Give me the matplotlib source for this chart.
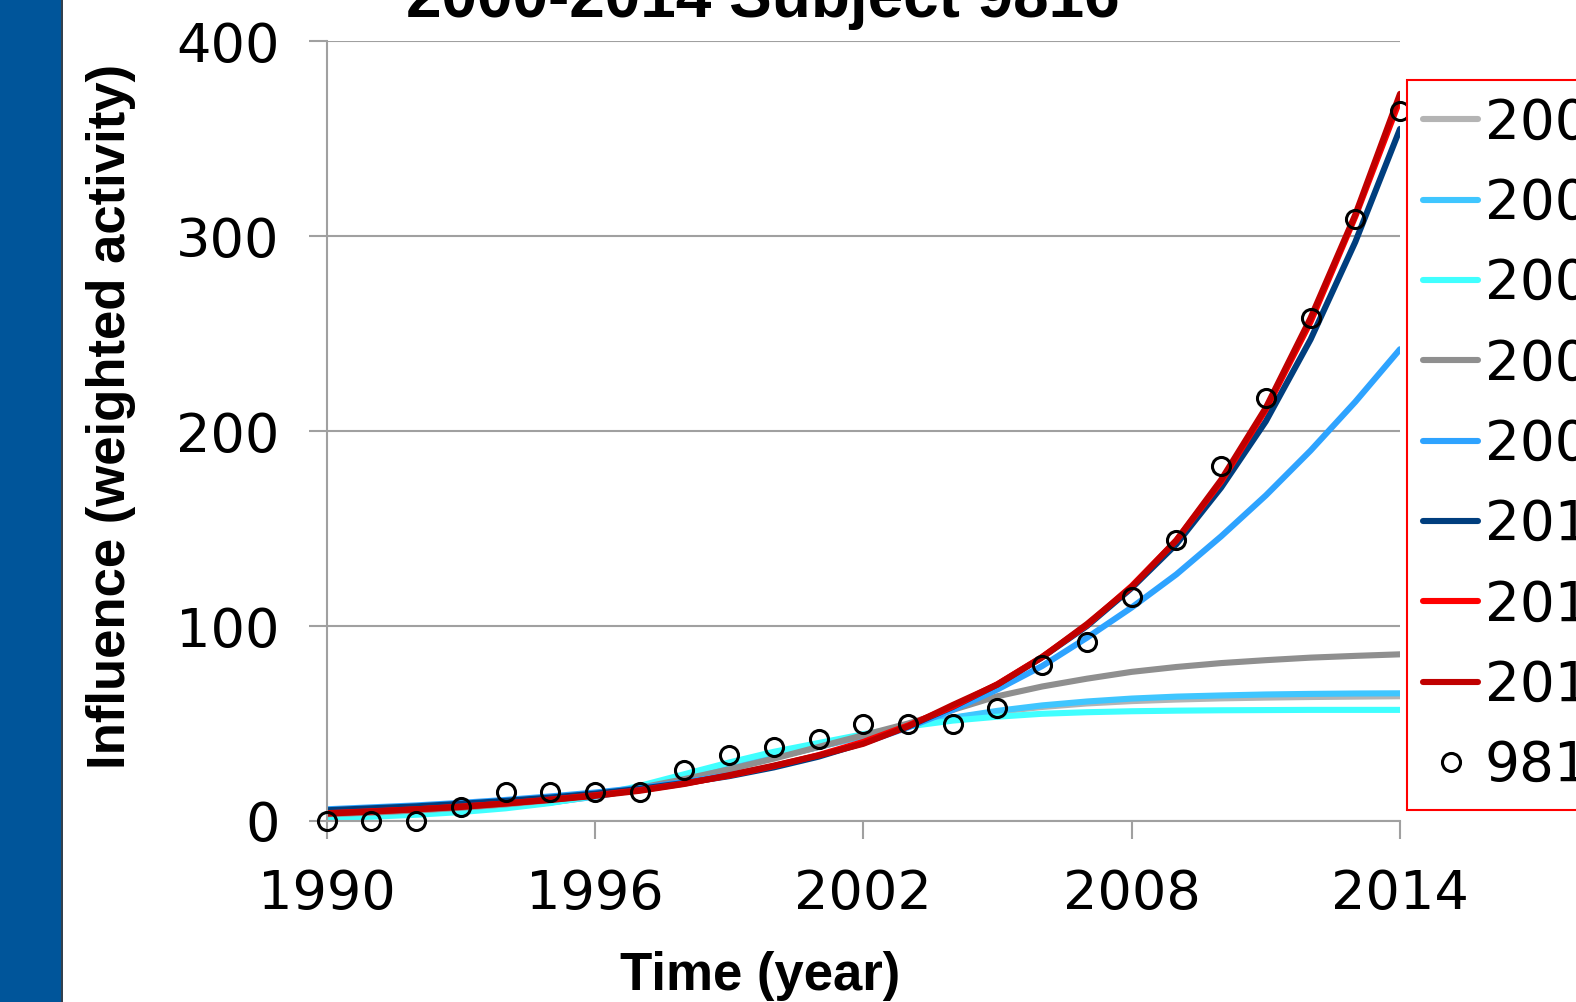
"""Logistic fits of influence over time, 2000-2014, subject 9816."""

import matplotlib
matplotlib.use("Agg")
import matplotlib.pyplot as plt
from matplotlib.patches import Rectangle
from matplotlib.lines import Line2D

years = list(range(1990, 2015))

# observed weighted activity of subject 9816
subject_9816 = [0, 0, 0, 7, 15, 15, 15, 15, 26, 34, 38, 42, 50, 50, 50, 58,
                80, 92, 115, 144, 182, 217, 258, 309, 364]

# fitted curves, one per cut-off year (labels are clipped in the figure)
fit_labels = ["2003", "2004", "2005", "2006", "2008", "2010", "2012", "2014"]
fit_2003 = [2.5, 3.2, 4.2, 5.5, 7.2, 9.5, 12.5, 16.5, 21.5, 27, 32.5, 38, 43.5,
            48.5, 52.8, 56, 58.5, 60.3, 61.5, 62.3, 62.9, 63.3, 63.6, 63.8, 64]
fit_2004 = [2.5, 3.2, 4.2, 5.5, 7.2, 9.5, 12.5, 16.5, 21.5, 27, 32.5, 38, 43.5,
            48.5, 53, 56.5, 59.3, 61.3, 62.8, 63.8, 64.4, 64.9, 65.2, 65.4, 65.5]
fit_2005 = [1.5, 2.2, 3.2, 4.6, 6.5, 9.2, 13, 18, 24, 30, 35.5, 40, 44.5,
            48.5, 51.5, 53.5, 55, 55.8, 56.3, 56.6, 56.8, 56.9, 57, 57, 57]
fit_2006 = [3.5, 4.3, 5.4, 6.8, 8.5, 10.7, 13.5, 17, 21.5, 26.5, 32, 38, 44,
            50, 57, 64, 69, 73, 76.5, 79, 81, 82.5, 83.8, 84.7, 85.5]
fit_2008 = [6, 7, 8, 9.3, 10.8, 12.6, 14.6, 17, 20, 23.5, 28, 33.5, 40,
            48, 57, 67.5, 79.5, 94, 109.5, 126.5, 146, 167, 190, 215, 242]
fit_2010 = [5.5, 6.5, 7.5, 8.8, 10.3, 12, 14, 16.5, 19.5, 23, 27.5, 33, 40,
            48.5, 58.5, 70, 84, 100, 119.5, 142, 171, 205, 247, 297, 355]
fit_2012 = [4, 5, 6, 7.4, 9, 11, 13.2, 15.8, 19.2, 23.3, 28.2, 33.8, 40.6,
            49, 58.7, 70.2, 84.2, 100.5, 120.5, 144, 174, 211, 256, 310, 370]
fit_2014 = [3.8, 4.8, 6, 7.2, 9, 10.8, 12.9, 15.5, 19, 23.5, 28.4, 33.6, 39.6,
            48.5, 59.5, 70, 84, 101, 120, 144, 175, 212, 258, 311, 373]

fits = [fit_2003, fit_2004, fit_2005, fit_2006, fit_2008, fit_2010, fit_2012, fit_2014]
colors = ["#B4B4B4", "#3FC6FF", "#40FFFF", "#8F8F8F", "#2EA3FF", "#003E7E", "#FF0000", "#C00000"]

W, H = 1576, 1002
fig = plt.figure(figsize=(W / 100, H / 100), dpi=100)

# blue side band
fig.patches.append(Rectangle((0, 0), 61 / W, 1, transform=fig.transFigure,
                             facecolor="#00559A", edgecolor="none"))
fig.add_artist(Line2D([61.5 / W, 61.5 / W], [0, 1], transform=fig.transFigure,
                      color="#0A1A2A", lw=1.2))

ax = fig.add_axes([326.6 / W, 1 - 821 / H, (1400 - 326.6) / W, (821 - 41.2) / H])

grid_c = "#A0A0A0"
for vals, c, lab in zip(fits, colors, fit_labels):
    ax.plot(years, vals, color=c, lw=4.4, label=lab, solid_capstyle="round",
            solid_joinstyle="round")
ax.plot(years, subject_9816, ls="none", marker="o", ms=13, mfc="none", mec="black",
        mew=2.2, label="9816", clip_on=False, zorder=5)

ax.set_xlim(1990, 2014)
ax.set_ylim(0, 400)
ax.set_xticks([1990, 1996, 2002, 2008, 2014])
ax.set_yticks([0, 100, 200, 300, 400])
ax.yaxis.grid(True, color=grid_c, lw=1.5)
ax.set_axisbelow(True)
for s in ["top", "right"]:
    ax.spines[s].set_visible(False)
for s in ["left", "bottom"]:
    ax.spines[s].set_color(grid_c)
    ax.spines[s].set_linewidth(1.5)
ax.tick_params(direction="out", length=13, width=1.5, color=grid_c,
               labelsize=39, pad=21)

leg = ax.legend(loc="upper left", bbox_to_anchor=(1407 / W, 1 - 80 / H),
                bbox_transform=fig.transFigure, fontsize=39.5, frameon=True,
                fancybox=False, framealpha=1, edgecolor="#FF0000",
                handlelength=1.0, handletextpad=0.12, labelspacing=0.48,
                borderpad=0.3, borderaxespad=0, numpoints=1)
leg.get_frame().set_linewidth(1.5)

bold = dict(family="Liberation Sans", weight="bold")
fig.text(763 / W, 1 - 17 / H, "2000-2014 Subject 9816", fontsize=46,
         ha="center", va="baseline", **bold)
fig.text(111 / W, 1 - 416 / H, "Influence (weighted activity)", fontsize=38,
         rotation=90, ha="center", va="center", **bold)
fig.text(760 / W, 1 - 990 / H, "Time (year)", fontsize=38,
         ha="center", va="baseline", **bold)

fig.savefig("out.png", dpi=100)
